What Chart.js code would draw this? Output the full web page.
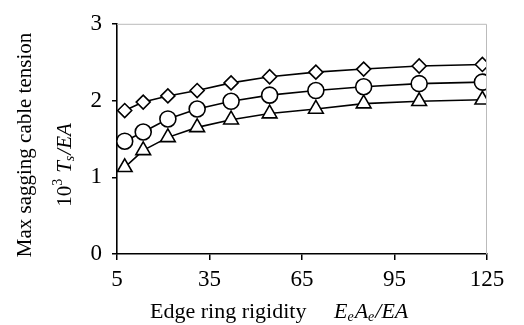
<!DOCTYPE html>
<html>
<head>
<meta charset="UTF-8" />
<script src="https://cdn.jsdelivr.net/npm/chart.js"></script>
<style>
  html, body { margin: 0; padding: 0; background: #fff; }
  #wrap { width: 524px; height: 325px; }
</style>
</head>
<body>
<div id="wrap"><canvas id="grafico" width="524" height="325"></canvas></div>
<script>
// dados
const rigidez = [7.5, 13.5, 21.5, 31, 42, 54.5, 69.5, 85, 103, 123.5]
const serieLosango = [1.87, 1.98, 2.06, 2.13, 2.23, 2.31, 2.37, 2.41, 2.45, 2.47]
const serieCirculo = [1.47, 1.59, 1.76, 1.89, 1.99, 2.07, 2.13, 2.18, 2.22, 2.24]
const serieTriangulo = [1.13, 1.35, 1.52, 1.65, 1.75, 1.83, 1.89, 1.96, 1.99, 2.01]
const ticksX = [5, 35, 65, 95, 125]
const ticksY = [0, 1, 2, 3]

const fonte = "'Liberation Serif', 'DejaVu Serif', serif"

function pontos(valores) {
  let lista = []
  for (let i = 0; i < rigidez.length; i++) {
    lista.push({ x: rigidez[i], y: valores[i] })
  }
  return lista
}

function serie(valores, estilo, raio) {
  return {
    data: pontos(valores),
    showLine: true,
    borderColor: "#000",
    borderWidth: 1.6,
    backgroundColor: "#fff",
    pointStyle: estilo,
    pointRadius: raio,
    pointBorderColor: "#000",
    pointBackgroundColor: "#fff",
    pointBorderWidth: 1.6,
    tension: 0,
  }
}

function textoSub(ctx, x, y, base, sub, tam) {
  ctx.font = "italic " + tam + "px " + fonte
  ctx.fillText(base, x, y)
  x += ctx.measureText(base).width
  ctx.font = "italic " + Math.round(tam * 0.65) + "px " + fonte
  ctx.fillText(sub, x, y + 5)
  x += ctx.measureText(sub).width + 1
  return x
}

// moldura cinza (topo e direita) + titulos com subscrito
const extras = {
  id: "extras",
  afterDraw(chart) {
    const ctx = chart.ctx
    const a = chart.chartArea
    ctx.save()
    ctx.strokeStyle = "#bbb"
    ctx.lineWidth = 1
    ctx.beginPath()
    ctx.moveTo(a.left, a.top + 0.5)
    ctx.lineTo(a.right - 0.5, a.top + 0.5)
    ctx.lineTo(a.right - 0.5, a.bottom)
    ctx.stroke()

    ctx.fillStyle = "#000"
    ctx.textBaseline = "middle"

    // titulo eixo x
    let y = 312
    let x = 150
    ctx.textAlign = "left"
    ctx.font = "22px " + fonte
    ctx.fillText("Edge ring rigidity", x, y)
    x = 334
    x = textoSub(ctx, x, y, "E", "e", 22)
    x = textoSub(ctx, x, y, "A", "e", 22)
    ctx.font = "italic 22px " + fonte
    ctx.fillText("/EA", x, y)

    // titulo eixo y (duas linhas rotacionadas)
    ctx.save()
    ctx.translate(25, 145)
    ctx.rotate(-Math.PI / 2)
    ctx.textAlign = "center"
    ctx.font = "21px " + fonte
    ctx.fillText("Max sagging cable tension", 0, 0)
    ctx.restore()

    ctx.save()
    ctx.translate(65, 165)
    ctx.rotate(-Math.PI / 2)
    ctx.textAlign = "left"
    ctx.font = "21px " + fonte
    let w1 = ctx.measureText("10").width
    ctx.font = "14px " + fonte
    let w2 = ctx.measureText("3").width
    ctx.font = "italic 21px " + fonte
    let w3 = ctx.measureText("T").width
    ctx.font = "italic 14px " + fonte
    let w4 = ctx.measureText("s").width
    ctx.font = "italic 21px " + fonte
    let w5 = ctx.measureText("/EA").width
    let total = w1 + w2 + 6 + w3 + w4 + 1 + w5
    let px = -total / 2
    ctx.font = "21px " + fonte
    ctx.fillText("10", px, 0)
    px += w1
    ctx.font = "14px " + fonte
    ctx.fillText("3", px, -7)
    px += w2 + 6
    px = textoSub(ctx, px, 0, "T", "s", 21)
    ctx.font = "italic 21px " + fonte
    ctx.fillText("/EA", px, 0)
    ctx.restore()

    ctx.restore()
  },
}

new Chart(document.getElementById("grafico"), {
  type: "scatter",
  data: {
    datasets: [
      serie(serieLosango, "rectRot", 7),
      serie(serieCirculo, "circle", 8),
      serie(serieTriangulo, "triangle", 8.5),
    ],
  },
  options: {
    responsive: false,
    animation: false,
    layout: { padding: { top: 16, right: 37, left: 0, bottom: 0 } },
    plugins: {
      legend: { display: false },
      tooltip: { enabled: false },
    },
    scales: {
      x: {
        type: "linear",
        min: 5,
        max: 125,
        afterBuildTicks(axis) {
          axis.ticks = ticksX.map(function (v) { return { value: v } })
        },
        grid: { drawOnChartArea: false, drawTicks: true, tickLength: 6, color: "#000", lineWidth: 1.5 },
        border: { color: "#000", width: 1.6 },
        ticks: { color: "#000", font: { family: fonte, size: 23 }, padding: 6, maxRotation: 0 },
        afterFit(axis) { axis.height = 71 },
      },
      y: {
        min: 0,
        max: 3,
        afterBuildTicks(axis) {
          axis.ticks = ticksY.map(function (v) { return { value: v } })
        },
        grid: { drawOnChartArea: false, drawTicks: true, tickLength: 5, color: "#000", lineWidth: 1.5 },
        border: { color: "#000", width: 1.6 },
        ticks: { color: "#000", font: { family: fonte, size: 23 }, padding: 10 },
        afterFit(axis) { axis.width = 117 },
      },
    },
  },
  plugins: [extras],
})
</script>
</body>
</html>
